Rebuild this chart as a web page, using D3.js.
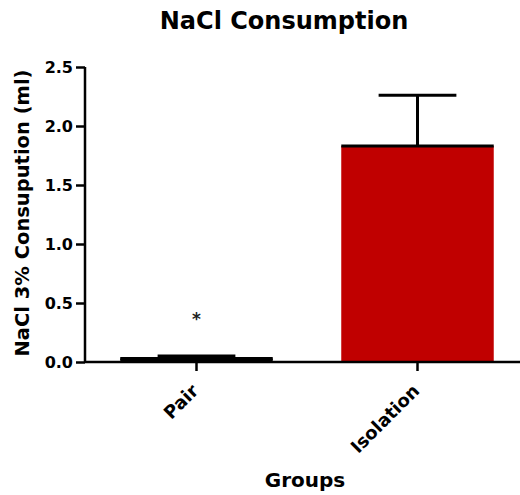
<!DOCTYPE html>
<html lang="en">
<head>
  <meta charset="UTF-8">
  <title>NaCl Consumption</title>
  <script src="https://d3js.org/d3.v7.min.js"></script>
  <style>
    body { margin: 0; background: #fff; }
    svg { font-family: "DejaVu Sans", Arial, sans-serif; font-weight: bold; }
    .axis path, .axis line { stroke: #000; stroke-width: 2.5px; }
    .axis text { font-family: "DejaVu Sans", Arial, sans-serif; font-size: 16px; font-weight: bold; fill: #000; }
  </style>
</head>
<body>
  <svg id="chart"></svg>
  <script>
    const width = 520;
    const height = 495;

    // data
    const groups = ["Pair", "Isolation"];
    const means = [0.03, 1.83];
    const sems = [0.02, 0.43];
    const colors = ["#000000", "#c00000"];
    const yTicks = [0, 0.5, 1.0, 1.5, 2.0, 2.5];

    const svg = d3.select("#chart")
      .attr("width", width)
      .attr("height", height);

    const x = d3.scaleBand()
      .domain(groups)
      .range([86, 528])
      .paddingInner(0.31)
      .paddingOuter(0.155);

    const y = d3.scaleLinear()
      .domain([0, 2.5])
      .range([362, 67]);

    // bars
    svg.selectAll(".bar")
      .data(groups)
      .enter().append("rect")
      .attr("class", "bar")
      .attr("x", d => x(d))
      .attr("width", x.bandwidth())
      .attr("y", (d, i) => y(means[i]))
      .attr("height", (d, i) => y(0) - y(means[i]))
      .attr("fill", (d, i) => colors[i]);

    // mean line on top of bars
    svg.selectAll(".meanline")
      .data(groups)
      .enter().append("line")
      .attr("x1", d => x(d))
      .attr("x2", d => x(d) + x.bandwidth())
      .attr("y1", (d, i) => y(means[i]))
      .attr("y2", (d, i) => y(means[i]))
      .attr("stroke", "#000")
      .attr("stroke-width", 3);

    // error bars (upper only)
    const capW = x.bandwidth() * 0.51;
    const err = svg.selectAll(".err")
      .data(groups)
      .enter().append("g")
      .attr("class", "err");

    err.append("line")
      .attr("x1", d => x(d) + x.bandwidth() / 2)
      .attr("x2", d => x(d) + x.bandwidth() / 2)
      .attr("y1", (d, i) => y(means[i]))
      .attr("y2", (d, i) => y(means[i] + sems[i]))
      .attr("stroke", "#000")
      .attr("stroke-width", 3);

    err.append("line")
      .attr("x1", d => x(d) + x.bandwidth() / 2 - capW / 2)
      .attr("x2", d => x(d) + x.bandwidth() / 2 + capW / 2)
      .attr("y1", (d, i) => y(means[i] + sems[i]))
      .attr("y2", (d, i) => y(means[i] + sems[i]))
      .attr("stroke", "#000")
      .attr("stroke-width", 3);

    // significance star
    svg.append("text")
      .attr("x", x("Pair") + x.bandwidth() / 2)
      .attr("y", y(0.31))
      .attr("text-anchor", "middle")
      .attr("font-size", "17px")
      .attr("fill", "#222")
      .text("*");

    // y axis
    svg.append("g")
      .attr("class", "axis")
      .attr("transform", "translate(85,0)")
      .call(d3.axisLeft(y).tickValues(yTicks).tickFormat(d3.format(".1f")).tickSize(9).tickPadding(3).tickSizeOuter(0))
      .call(g => g.select(".domain").attr("d", "M0," + y(2.5) + "V" + y(0)));

    // x axis
    const xAxis = svg.append("g")
      .attr("class", "axis")
      .attr("transform", "translate(0,362)")
      .call(d3.axisBottom(x).tickSize(9).tickSizeOuter(0))
      .call(g => g.select(".domain").attr("d", "M85,0H520"));

    xAxis.selectAll("text")
      .attr("text-anchor", "end")
      .style("font-size", "18px")
      .attr("transform", "translate(3,30) rotate(-45)")
      .attr("dy", 0)
      .attr("y", 0)
      .attr("x", 0);

    // titles
    svg.append("text")
      .attr("x", 284)
      .attr("y", 29)
      .attr("text-anchor", "middle")
      .attr("font-size", "24px")
      .text("NaCl Consumption");

    svg.append("text")
      .attr("transform", "translate(29,213) rotate(-90)")
      .attr("text-anchor", "middle")
      .attr("font-size", "19.5px")
      .text("NaCl 3% Consupution (ml)");

    svg.append("text")
      .attr("x", 305)
      .attr("y", 487)
      .attr("text-anchor", "middle")
      .attr("font-size", "20px")
      .text("Groups");
  </script>
</body>
</html>
